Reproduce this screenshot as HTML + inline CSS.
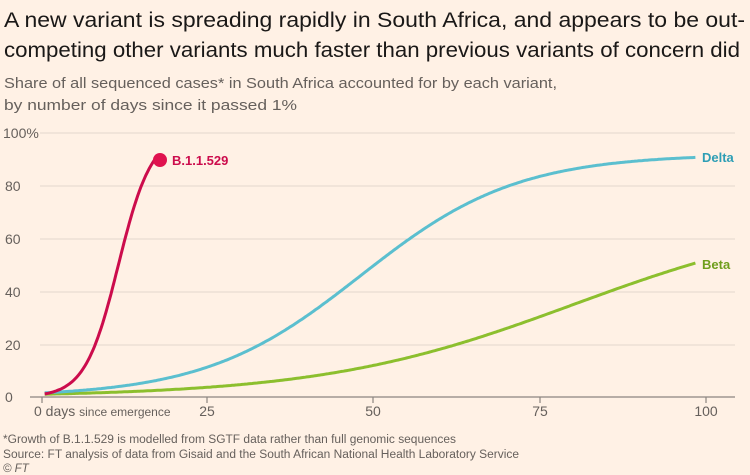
<!DOCTYPE html>
<html><head><meta charset="utf-8"><style>
html,body{margin:0;padding:0;background:#fff1e5;}
svg{display:block;font-family:"Liberation Sans",sans-serif;}
</style></head><body>
<svg id="c" width="750" height="475" viewBox="0 0 750 475">
<rect width="750" height="475" fill="#fff1e5"/>
<text x="4" y="27" font-size="21" fill="#1a1817" textLength="741" lengthAdjust="spacingAndGlyphs">A new variant is spreading rapidly in South Africa, and appears to be out-</text>
<text x="4" y="57" font-size="21" fill="#1a1817" textLength="736" lengthAdjust="spacingAndGlyphs">competing other variants much faster than previous variants of concern did</text>
<text x="4" y="88" font-size="15" fill="#66605c" textLength="553" lengthAdjust="spacingAndGlyphs">Share of all sequenced cases* in South Africa accounted for by each variant,</text>
<text x="4" y="110" font-size="15" fill="#66605c" textLength="293" lengthAdjust="spacingAndGlyphs">by number of days since it passed 1%</text>
<g stroke="#e3d8cd" stroke-width="1">
<line x1="40" y1="133" x2="735" y2="133"/><line x1="40" y1="186" x2="735" y2="186"/>
<line x1="40" y1="239" x2="735" y2="239"/><line x1="40" y1="292" x2="735" y2="292"/>
<line x1="40" y1="345" x2="735" y2="345"/>
</g>
<line x1="30" y1="397" x2="735" y2="397" stroke="#8c8580" stroke-width="1.2"/>
<g stroke="#8c8580" stroke-width="1.2">
<line x1="42" y1="397" x2="42" y2="403"/><line x1="207" y1="397" x2="207" y2="403"/>
<line x1="373" y1="397" x2="373" y2="403"/><line x1="540" y1="397" x2="540" y2="403"/>
<line x1="706" y1="397" x2="706" y2="403"/>
</g>
<g font-size="14" fill="#66605c">
<text x="3" y="138">100%</text><text x="5" y="191">80</text><text x="5" y="244">60</text>
<text x="5" y="297">40</text><text x="5" y="350">20</text><text x="5" y="402">0</text>
<text x="34" y="416">0 days <tspan font-size="12">since emergence</tspan></text>
<text x="207" y="416" text-anchor="middle">25</text><text x="373" y="416" text-anchor="middle">50</text>
<text x="540" y="416" text-anchor="middle">75</text><text x="706" y="416" text-anchor="middle">100</text>
</g>
<path id="beta" fill="none" stroke="#8cbf2e" stroke-width="3"/>
<path id="delta" fill="none" stroke="#5bbfcf" stroke-width="3"/>
<path id="red" fill="none" stroke="#cc0c4c" stroke-width="3"/>
<circle cx="160" cy="160" r="7" fill="#e0124f"/>
<text x="172" y="165" font-size="13" font-weight="bold" fill="#cc0c4c">B.1.1.529</text>
<text x="702" y="162" font-size="13" font-weight="bold" fill="#2e9eb5">Delta</text>
<text x="702" y="269" font-size="13" font-weight="bold" fill="#6e9e1c">Beta</text>
<g font-size="11.5" fill="#66605c">
<text x="3" y="443" textLength="453" lengthAdjust="spacingAndGlyphs">*Growth of B.1.1.529 is modelled from SGTF data rather than full genomic sequences</text>
<text x="3" y="458" textLength="516" lengthAdjust="spacingAndGlyphs">Source: FT analysis of data from Gisaid and the South African National Health Laboratory Service</text>
<text x="3" y="472" font-style="italic">© FT</text>
</g>
</svg>
<script>
function X(d){return 42+d*6.64;}
function Y(v){return 397-v*2.64;}
function mk(f,d0,d1){var s="";for(var d=d0;d<=d1+1e-9;d+=0.25){s+=(s?"L":"M")+X(d).toFixed(1)+","+Y(f(d)).toFixed(1);}return s;}
document.getElementById("red").setAttribute("d",mk(function(d){return 100/(1+Math.exp(-0.4*(d-11.5)));},0.4,17.6));
document.getElementById("delta").setAttribute("d",mk(function(d){return 92/(1+Math.exp(-0.085*(d-48)));},0.4,98.5));
document.getElementById("beta").setAttribute("d",mk(function(d){return 70/(1+Math.exp(-0.0525*(d-80)));},0.4,98.5));
</script>
</body></html>
